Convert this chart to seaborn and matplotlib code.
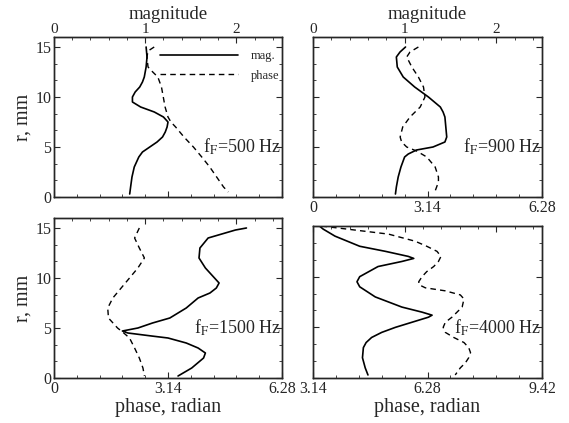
import matplotlib
matplotlib.use('Agg')
import matplotlib.pyplot as plt
from matplotlib.ticker import AutoMinorLocator
import seaborn as sns
import pandas as pd

# f_F = 500 Hz
r_500_mag = [15, 14, 13, 12, 11.5, 11, 10.5, 10, 9.5, 9, 8.5, 8, 7.5, 7, 6.5, 6, 5.5, 5, 4.5, 4, 3, 2, 1, 0.3]
mag_500 = [1.01, 1.02, 1.01, 0.99, 0.97, 0.94, 0.89, 0.86, 0.86, 0.95, 1.10, 1.20, 1.25, 1.24, 1.22, 1.19,
           1.13, 1.05, 0.97, 0.93, 0.88, 0.855, 0.84, 0.83]
r_500_ph = [15, 14.6, 14, 13, 12.5, 12, 11, 10, 9, 8, 7.5, 7, 6, 5, 4, 3, 2, 1, 0.5]
ph_500 = [2.76, 2.59, 2.56, 2.59, 2.72, 2.86, 2.96, 3.01, 3.06, 3.14, 3.22, 3.35, 3.58, 3.84, 4.07, 4.29,
          4.48, 4.67, 4.80]

# f_F = 900 Hz
r_900_mag = [15, 14.5, 14, 13, 12, 11, 10, 9, 8.5, 8, 7, 6, 5.5, 5, 4.7, 4.3, 4, 3, 2, 1, 0.3]
mag_900 = [1.01, 0.95, 0.91, 0.92, 0.985, 1.11, 1.26, 1.39, 1.42, 1.44, 1.45, 1.46, 1.44, 1.31, 1.13, 1.04,
           1.00, 0.96, 0.93, 0.91, 0.90]
r_900_ph = [15, 14.5, 14, 13, 12, 11, 10, 9, 8, 7, 6, 5.5, 5, 4.6, 4, 3, 2, 1.5, 1, 0.3]
ph_900 = [2.89, 2.66, 2.57, 2.71, 2.89, 3.03, 3.07, 2.94, 2.66, 2.46, 2.39, 2.43, 2.57, 2.84, 3.12, 3.35,
          3.44, 3.44, 3.39, 3.32]

# f_F = 1500 Hz
r_1500_mag = [15, 14.8, 14, 13, 12, 11, 10, 9.5, 9, 8.5, 8, 7, 6, 5.5, 5, 4.7, 4.5, 4.2, 4, 3.5, 3, 2.5, 2, 1, 0.2]
mag_1500 = [2.11, 1.99, 1.69, 1.60, 1.59, 1.66, 1.76, 1.81, 1.78, 1.71, 1.58, 1.45, 1.27, 1.08, 0.92, 0.75,
            0.81, 1.07, 1.25, 1.45, 1.58, 1.66, 1.64, 1.51, 1.36]
r_1500_ph = [15, 14, 13, 12, 11, 10, 9, 8, 7, 6, 5, 4.6, 4, 3, 2, 1, 0.2]
ph_1500 = [2.35, 2.22, 2.35, 2.49, 2.31, 2.08, 1.85, 1.62, 1.48, 1.50, 1.75, 1.89, 2.08, 2.22, 2.35, 2.45, 2.49]

# f_F = 4000 Hz
r_4000_mag = [15, 15, 14.7, 14, 13, 12.5, 12, 11.8, 11.5, 11, 10, 9.5, 9, 8, 7, 6.5, 6.2, 6, 5.5, 5, 4.5, 4,
              3.5, 3, 2, 1, 0.3]
mag_4000 = [0.0, 0.07, 0.11, 0.24, 0.51, 0.79, 1.04, 1.10, 0.97, 0.71, 0.51, 0.48, 0.51, 0.68, 0.97, 1.19,
            1.30, 1.26, 1.08, 0.90, 0.75, 0.64, 0.58, 0.55, 0.54, 0.57, 0.60]
r_4000_ph = [15, 14.9, 14.6, 14.2, 13.5, 13, 12.5, 12, 11.5, 11, 10.5, 10, 9.5, 9.2, 8.9, 8.6, 8.2, 7.8, 7,
             6.5, 6, 5.5, 5, 4.5, 4, 3.5, 3, 2.5, 2, 1.5, 1, 0.3]
ph_4000 = [3.37, 3.60, 4.29, 5.21, 5.94, 6.26, 6.54, 6.65, 6.58, 6.45, 6.26, 6.13, 6.04, 6.05, 6.22, 6.77,
           7.18, 7.28, 7.23, 7.09, 6.95, 6.77, 6.71, 6.77, 7.00, 7.28, 7.41, 7.46, 7.41, 7.32, 7.18, 7.04]

sns.set_style('ticks')
plt.rcParams['font.family'] = ['Liberation Serif', 'DejaVu Serif']
plt.rcParams['mathtext.fontset'] = 'stix'
plt.rcParams['xtick.direction'] = 'in'
plt.rcParams['ytick.direction'] = 'in'
plt.rcParams['axes.linewidth'] = 1.0

fig = plt.figure(figsize=(5.69, 4.23), dpi=100)

W, H = 569, 423


def rect(left, top, right, bottom):
    return [left / W, 1 - bottom / H, (right - left) / W, (bottom - top) / H]


def panel(box, r_m, mag, r_p, ph, ylim, ph_lim, ph_ticks, label,
          top_labels, bottom_labels, left_labels, legend=False):
    ax = fig.add_axes(box)
    axm = ax.twiny()
    sns.lineplot(data=pd.DataFrame({'ph': ph, 'r': r_p}), x='ph', y='r', ax=ax, sort=False,
                 estimator=None, color='black', lw=1.0, linestyle=(0, (4, 3)), legend=False)
    sns.lineplot(data=pd.DataFrame({'mag': mag, 'r': r_m}), x='mag', y='r', ax=axm, sort=False,
                 estimator=None, color='black', lw=1.2, legend=False)
    ax.set_xlim(ph_lim)
    ax.set_ylim(ylim)
    axm.set_xlim(0, 2.5)
    ax.set_xticks(ph_ticks)
    ax.set_xticklabels([f'{t:.2f}' if t else '0' for t in ph_ticks])
    ax.xaxis.set_minor_locator(AutoMinorLocator(5))
    axm.set_xticks([0, 1, 2])
    axm.xaxis.set_minor_locator(AutoMinorLocator(5))
    ax.set_yticks([0, 5, 10, 15])
    ax.yaxis.set_minor_locator(AutoMinorLocator(3))
    ax.tick_params(axis='both', which='major', length=4, width=0.8, labelsize=11.5, pad=2)
    ax.tick_params(axis='both', which='minor', length=2, width=0.6)
    ax.tick_params(axis='y', which='both', left=True, right=True, labelleft=left_labels)
    ax.tick_params(axis='x', labelbottom=bottom_labels)
    axm.tick_params(axis='x', which='major', length=4, width=0.8, labelsize=11, pad=0.5,
                    labeltop=top_labels)
    axm.tick_params(axis='x', which='minor', length=2, width=0.6)
    ax.set_ylabel('r, mm' if left_labels else '', fontsize=14.5, labelpad=2)
    ax.set_xlabel('')
    axm.set_xlabel('magnitude' if top_labels else '', fontsize=13.5, labelpad=3)
    if bottom_labels and box[1] < 0.3:
        ax.set_xlabel('phase, radian', fontsize=14.5, labelpad=1)
    ax.text(0.995, 5, label, transform=ax.get_yaxis_transform(), ha='right', va='center', fontsize=13)
    if legend:
        axm.legend(handles=[axm.lines[0], ax.lines[0]], labels=['mag.', 'phase'], loc='upper right',
                   bbox_to_anchor=(1.01, 0.95), frameon=False, fontsize=9, handlelength=6.3,
                   handletextpad=1.0, labelspacing=0.6, borderaxespad=0)
    return ax


panel(rect(54, 37, 282, 197), r_500_mag, mag_500, r_500_ph, ph_500, (0, 16), (0, 6.28), [0, 3.14, 6.28],
      r'f$_\mathrm{F}$=500 Hz', True, False, True, legend=True)
panel(rect(313, 37, 542, 197), r_900_mag, mag_900, r_900_ph, ph_900, (0, 16), (0, 6.28), [0, 3.14, 6.28],
      r'f$_\mathrm{F}$=900 Hz', True, True, False)
panel(rect(54, 218, 282, 378), r_1500_mag, mag_1500, r_1500_ph, ph_1500, (0, 16), (0, 6.28),
      [0, 3.14, 6.28], r'f$_\mathrm{F}$=1500 Hz', False, True, True)
panel(rect(313, 226, 542, 378), r_4000_mag, mag_4000, r_4000_ph, ph_4000, (0, 15), (3.14, 9.42),
      [3.14, 6.28, 9.42], r'f$_\mathrm{F}$=4000 Hz', False, True, False)

fig.savefig('out.png', dpi=100)
